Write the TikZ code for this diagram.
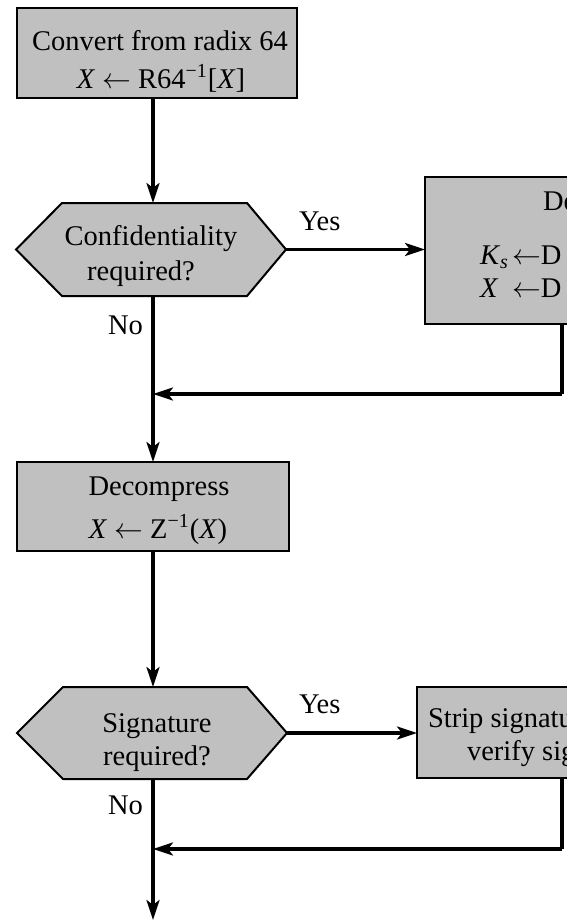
\documentclass[tikz,border=0pt]{standalone}
\usepackage{fontspec}
\setmainfont{Liberation Serif}
\usetikzlibrary{arrows.meta,calc}
\definecolor{boxgray}{RGB}{192,192,192}
\newcommand{\larr}{\ensuremath{\leftarrow}}
\begin{document}
\begin{tikzpicture}[x=0.5pt,y=-0.5pt,
  every node/.style={font=\fontsize{14.25}{17.5}\selectfont, inner sep=0pt, outer sep=0pt},
  boxshape/.style={draw=black, line width=1pt, fill=boxgray, rectangle, inner sep=0pt},
  hexshape/.style={draw=black, line width=1pt, fill=boxgray, line join=miter},
  ctext/.style={anchor=base},
  ltext/.style={anchor=base west},
  flow/.style={line width=1.6pt, -{Stealth[length=10pt,width=6.5pt,inset=2.5pt]}},
  plainline/.style={line width=1.6pt}]

\useasboundingbox (0,0) rectangle (567,921);
\clip (0,0) rectangle (567,921);

\coordinate (spine) at (153,0);

% top box
\node[boxshape, minimum width=140pt, minimum height=45pt] (r64) at (157,53) {};
\node[ctext] (r64a) at (160,50) {Convert from radix 64};
\node[ctext] (r64b) at (161,88) {\textit{X} \larr{} R64\textsuperscript{−1}[\textit{X}]};

% hexagon 1
\path[hexshape] (16,249.5) -- (62,203) -- (247,203) -- (286,249.5) -- (247,296) -- (62,296) -- cycle;
\coordinate (h1n) at (153,203);
\coordinate (h1s) at (153,296);
\coordinate (h1e) at (286,249.5);
\node[ctext] (h1a) at (151,245) {Confidentiality};
\node[ctext] (h1b) at (141,280) {required?};
\node[ltext] (yes1) at (299,230) {Yes};
\node[ltext] (no1) at (108,334) {No};

% decrypt box (cut off at right, as in the reference)
\node[boxshape, anchor=north west, minimum width=110pt, minimum height=73.5pt] (dec) at (425,177) {};
\node[ltext] (deca) at (543,210) {De};
\node[ltext] (decb) at (480,264) {\makebox[16pt][l]{\textit{K}\textsubscript{\textit{s}}}\larr D};
\node[ltext] (decc) at (480,297) {\makebox[16pt][l]{\textit{X}}\larr D};
\coordinate (j1) at (562,394);

% decompress box
\node[boxshape, minimum width=136pt, minimum height=44.5pt] (zbox) at (153,506.5) {};
\node[ctext] (za) at (159,495) {Decompress};
\node[ctext] (zb) at (158,538) {\textit{X} \larr{} Z\textsuperscript{−1}(\textit{X})};

% hexagon 2
\path[hexshape] (17,733) -- (63,687) -- (247,687) -- (287,733) -- (247,779) -- (63,779) -- cycle;
\coordinate (h2n) at (153,687);
\coordinate (h2s) at (153,779);
\coordinate (h2e) at (287,733);
\node[ctext] (h2a) at (157,732) {Signature};
\node[ctext] (h2b) at (157,765) {required?};
\node[ltext] (yes2) at (299,713) {Yes};
\node[ltext] (no2) at (108,814) {No};

% strip box (cut off at right, as in the reference)
\node[boxshape, anchor=north west, minimum width=120pt, minimum height=45.5pt] (strip) at (417,687) {};
\node[ltext] (sa) at (428,727) {Strip signatu};
\node[ltext] (sb) at (467,760) {verify sig};
\coordinate (j2) at (562,849);
\coordinate (out) at (153,920);

% connectors
\draw[flow] (r64.south -| spine) -- (h1n);
\draw[flow] (h1e) -- (h1e -| dec.west);
\draw[plainline] (dec.south -| j1) -- (j1);
\draw[flow] (j1) -- (j1 -| spine);
\draw[flow] (h1s) -- (zbox.north -| spine);
\draw[flow] (zbox.south -| spine) -- (h2n);
\draw[flow] (h2e) -- (h2e -| strip.west);
\draw[plainline] (strip.south -| j2) -- (j2);
\draw[flow] (j2) -- (j2 -| spine);
\draw[flow] (h2s) -- (out);
\end{tikzpicture}
\end{document}
